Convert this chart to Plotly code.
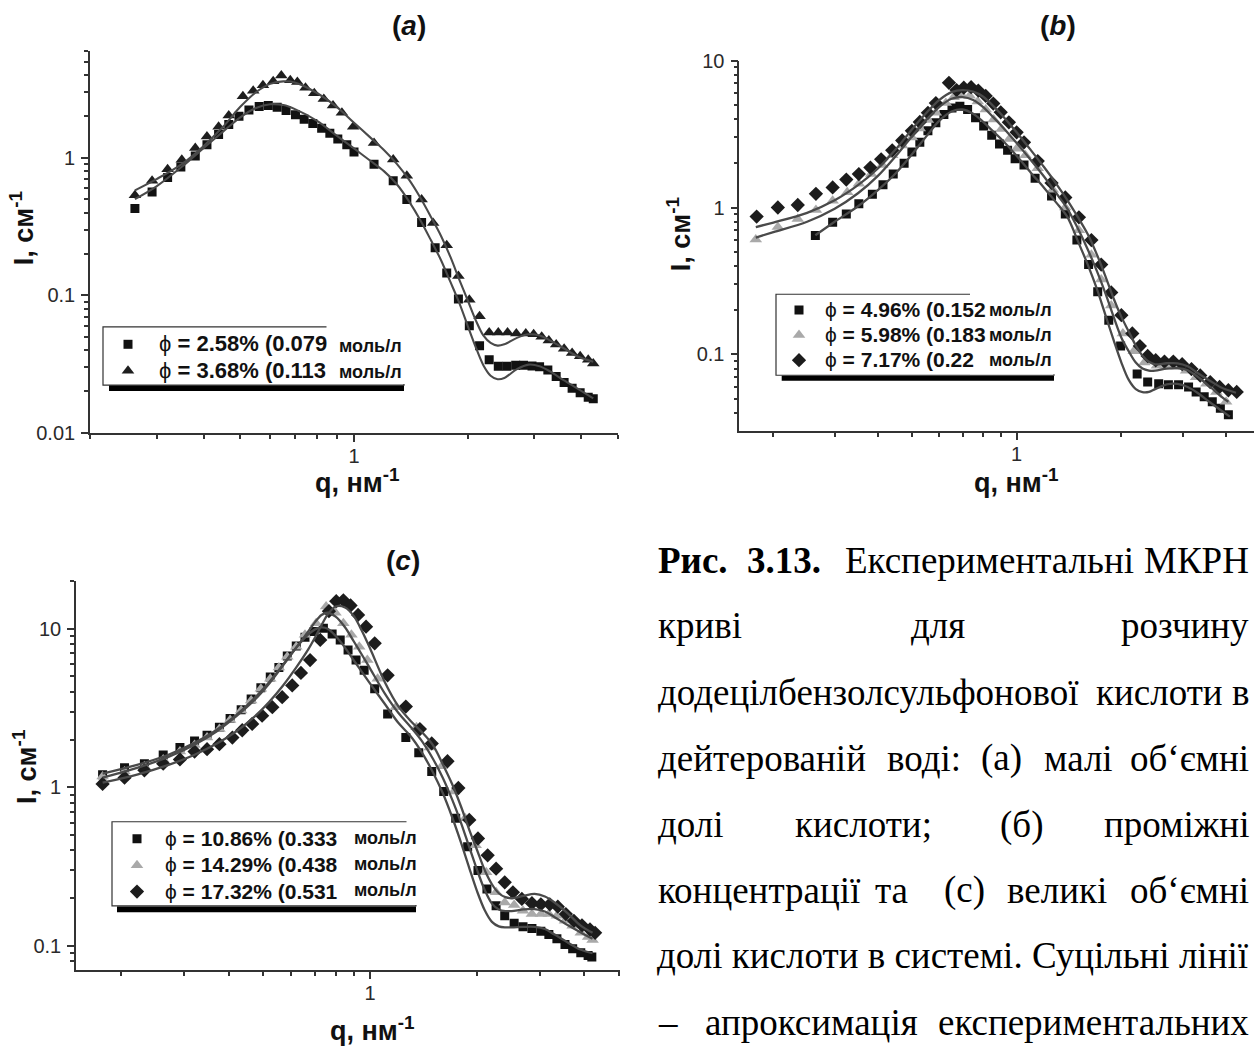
import math
import plotly.graph_objects as go

# ---------------- data: panel (a) ----------------
a_q_sq = [0.263, 0.292, 0.321, 0.348, 0.380, 0.408, 0.438, 0.466, 0.496, 0.527, 0.561, 0.593,
          0.626, 0.661, 0.700, 0.738, 0.778, 0.821, 0.863, 0.906, 0.957, 1.00, 1.13, 1.27,
          1.38, 1.51, 1.64, 1.76, 1.89, 2.02, 2.15, 2.28, 2.41, 2.54, 2.68, 2.81, 2.96, 3.10,
          3.26, 3.43, 3.60, 3.78, 3.97, 4.17, 4.30]
a_I_sq = [0.428, 0.563, 0.72, 0.858, 1.03, 1.245, 1.48, 1.75, 2.01, 2.23, 2.36, 2.40,
          2.33, 2.21, 2.06, 1.91, 1.78, 1.64, 1.51, 1.37, 1.245, 1.10, 0.896, 0.682,
          0.497, 0.339, 0.222, 0.145, 0.094, 0.060, 0.043, 0.034, 0.0305, 0.0305, 0.031, 0.031,
          0.0306, 0.0302, 0.0286, 0.0256, 0.0232, 0.0211, 0.0195, 0.0181, 0.0177]
a_q_tr = [0.263, 0.292, 0.321, 0.350, 0.380, 0.408, 0.438, 0.466, 0.508, 0.541, 0.574, 0.611,
          0.642, 0.678, 0.708, 0.744, 0.785, 0.832, 0.880, 0.929, 0.995, 1.13, 1.27, 1.38,
          1.51, 1.62, 1.76, 1.89, 2.02, 2.15, 2.28, 2.41, 2.55, 2.69, 2.85, 2.99, 3.14, 3.28,
          3.43, 3.60, 3.78, 3.97, 4.17, 4.30]
a_I_tr = [0.533, 0.682, 0.826, 0.97, 1.18, 1.43, 1.68, 2.03, 2.80, 3.07, 3.37, 3.61,
          3.97, 3.66, 3.56, 3.24, 2.95, 2.68, 2.40, 2.13, 1.68, 1.28, 0.973, 0.740,
          0.497, 0.335, 0.231, 0.138, 0.0926, 0.0705, 0.0536, 0.0536, 0.0536, 0.0527, 0.0527,
          0.0521, 0.0499, 0.0468, 0.0438, 0.0408, 0.038, 0.036, 0.034, 0.0319]
a_fit_q = [0.263, 0.30, 0.35, 0.40, 0.45, 0.50, 0.55, 0.60, 0.65, 0.70, 0.80, 0.90, 1.0, 1.1,
           1.2, 1.3, 1.4, 1.5, 1.6, 1.7, 1.8, 1.9, 2.0, 2.1, 2.2, 2.3, 2.4, 2.5, 2.7, 2.9,
           3.1, 3.3, 3.6, 3.9, 4.3]
a_fit_sq = [0.50, 0.62, 0.86, 1.18, 1.55, 1.97, 2.30, 2.45, 2.42, 2.25, 1.85, 1.45, 1.17, 0.96,
            0.80, 0.64, 0.48, 0.35, 0.25, 0.18, 0.125, 0.088, 0.060, 0.042, 0.031, 0.026,
            0.0245, 0.025, 0.029, 0.0313, 0.0305, 0.028, 0.024, 0.021, 0.0178]
a_fit_tr = [0.58, 0.70, 0.90, 1.22, 1.68, 2.35, 3.00, 3.45, 3.60, 3.52, 2.95, 2.35, 1.80, 1.42,
            1.14, 0.90, 0.69, 0.51, 0.37, 0.27, 0.19, 0.13, 0.092, 0.066, 0.051, 0.045,
            0.043, 0.044, 0.049, 0.052, 0.051, 0.047, 0.041, 0.036, 0.0328]
a_phi = ["2.58%", "3.68%"]
a_conc = ["0.079", "0.113"]

# ---------------- data: panel (b) ----------------
b_q_sq = [0.264, 0.296, 0.324, 0.352, 0.385, 0.413, 0.442, 0.475, 0.500, 0.527, 0.556, 0.586,
          0.618, 0.652, 0.687, 0.723, 0.762, 0.804, 0.848, 0.893, 0.942, 0.99, 1.05, 1.13,
          1.26, 1.38, 1.49, 1.61, 1.71, 1.84, 1.99, 2.22, 2.38, 2.56, 2.73, 2.92, 3.12, 3.28,
          3.46, 3.65, 3.85, 4.06]
b_I_sq = [0.644, 0.794, 0.903, 1.06, 1.23, 1.43, 1.69, 2.0, 2.39, 2.78, 3.33, 3.78,
          4.30, 4.76, 4.89, 4.64, 4.08, 3.59, 3.11, 2.71, 2.45, 2.15, 1.95, 1.58,
          1.20, 0.903, 0.600, 0.409, 0.267, 0.171, 0.114, 0.0736, 0.0648, 0.063, 0.0621, 0.0621,
          0.060, 0.0555, 0.0514, 0.0476, 0.043, 0.0388]
b_q_tr = [0.178, 0.206, 0.235, 0.265, 0.296, 0.326, 0.352, 0.382, 0.411, 0.439, 0.469, 0.500,
          0.527, 0.556, 0.586, 0.626, 0.659, 0.695, 0.733, 0.773, 0.815, 0.859, 0.905, 0.953,
          1.0, 1.06, 1.15, 1.27, 1.38, 1.51, 1.64, 1.75, 1.87, 2.02, 2.17, 2.33, 2.53, 2.70,
          2.88, 3.07, 3.28, 3.51, 3.75, 4.00]
b_I_tr = [0.606, 0.736, 0.836, 0.96, 1.11, 1.27, 1.45, 1.69, 1.95, 2.27, 2.64, 3.0,
          3.45, 3.94, 4.41, 5.14, 5.64, 5.84, 5.76, 5.28, 4.64, 3.98, 3.42, 2.93,
          2.51, 2.27, 1.85, 1.32, 1.0, 0.699, 0.476, 0.324, 0.215, 0.139, 0.105, 0.088, 0.0836,
          0.0836, 0.0823, 0.0775, 0.0699, 0.063, 0.0555, 0.0476]
b_q_di = [0.179, 0.206, 0.235, 0.265, 0.296, 0.324, 0.352, 0.380, 0.408, 0.439, 0.469, 0.500,
          0.527, 0.556, 0.586, 0.639, 0.672, 0.705, 0.740, 0.776, 0.815, 0.857, 0.900, 0.950,
          1.0, 1.05, 1.15, 1.26, 1.38, 1.51, 1.64, 1.75, 1.87, 2.00, 2.15, 2.26, 2.38, 2.51,
          2.66, 2.82, 2.99, 3.18, 3.37, 3.60, 3.83, 4.06, 4.29]
b_I_di = [0.867, 1.0, 1.04, 1.24, 1.37, 1.55, 1.69, 1.87, 2.13, 2.45, 2.86, 3.33,
          3.82, 4.41, 5.14, 7.06, 6.30, 6.55, 6.60, 6.25, 5.75, 5.10, 4.45, 3.80,
          3.25, 2.78, 2.07, 1.47, 1.17, 0.858, 0.60, 0.409, 0.264, 0.185, 0.139, 0.114, 0.0975,
          0.0912, 0.0893, 0.0893, 0.0858, 0.0794, 0.0718, 0.0648, 0.060, 0.057, 0.0555]
b_fit_q1 = [0.264, 0.30, 0.35, 0.40, 0.45, 0.50, 0.55, 0.60, 0.65, 0.70, 0.75, 0.80, 0.85,
            0.90, 1.0, 1.1, 1.2, 1.3, 1.4, 1.5, 1.6, 1.7, 1.8, 1.9, 2.0, 2.1, 2.2, 2.3, 2.4,
            2.5, 2.7, 2.9, 3.1, 3.3, 3.6, 3.9, 4.1]
b_fit_sq = [0.647, 0.80, 1.02, 1.32, 1.72, 2.30, 3.05, 3.90, 4.50, 4.65, 4.35, 3.85, 3.35,
            2.95, 2.25, 1.72, 1.36, 1.08, 0.86, 0.59, 0.41, 0.28, 0.185, 0.125, 0.088, 0.067,
            0.058, 0.0553, 0.0555, 0.058, 0.0625, 0.063, 0.060, 0.055, 0.047, 0.041, 0.0377]
b_fit_q2 = [0.178, 0.20, 0.25, 0.30, 0.35, 0.40, 0.45, 0.50, 0.55, 0.60, 0.65, 0.70, 0.75,
            0.80, 0.85, 0.90, 1.0, 1.1, 1.2, 1.3, 1.4, 1.5, 1.6, 1.7, 1.8, 1.9, 2.0, 2.1, 2.2,
            2.3, 2.4, 2.5, 2.7, 2.9, 3.1, 3.3, 3.6, 3.9, 4.06]
b_fit_tr = [0.624, 0.68, 0.80, 0.98, 1.25, 1.65, 2.25, 3.05, 3.95, 4.85, 5.50, 5.65, 5.40,
            4.85, 4.20, 3.65, 2.75, 2.10, 1.62, 1.25, 0.98, 0.72, 0.52, 0.37, 0.26, 0.18,
            0.13, 0.105, 0.088, 0.080, 0.0775, 0.0775, 0.080, 0.0805, 0.078, 0.071, 0.060,
            0.051, 0.0476]
b_fit_q3 = [0.178, 0.20, 0.25, 0.30, 0.35, 0.40, 0.45, 0.50, 0.55, 0.60, 0.65, 0.70, 0.75,
            0.80, 0.85, 0.90, 1.0, 1.1, 1.2, 1.3, 1.4, 1.5, 1.6, 1.7, 1.8, 1.9, 2.0, 2.1, 2.2,
            2.3, 2.4, 2.5, 2.7, 2.9, 3.1, 3.3, 3.6, 3.9, 4.27]
b_fit_di = [0.736, 0.79, 0.92, 1.12, 1.42, 1.85, 2.50, 3.40, 4.40, 5.40, 6.10, 6.30, 6.15,
            5.70, 5.00, 4.35, 3.25, 2.45, 1.88, 1.45, 1.12, 0.86, 0.66, 0.48, 0.34, 0.24,
            0.18, 0.143, 0.115, 0.098, 0.089, 0.0855, 0.087, 0.087, 0.083, 0.075, 0.066,
            0.059, 0.0548]
b_phi = ["4.96%", "5.98%", "7.17%"]
b_conc = ["0.152", "0.183", "0.22"]

# ---------------- data: panel (c) ----------------
c_q_sq = [0.177, 0.204, 0.232, 0.262, 0.292, 0.321, 0.348, 0.377, 0.404, 0.434, 0.463, 0.493,
          0.524, 0.554, 0.585, 0.620, 0.656, 0.696, 0.739, 0.782, 0.824, 0.867, 0.913, 0.962,
          1.03, 1.12, 1.26, 1.37, 1.49, 1.61, 1.74, 1.88, 2.01, 2.13, 2.26, 2.39, 2.54, 2.69,
          2.85, 3.02, 3.18, 3.35, 3.53, 3.71, 3.91, 4.10, 4.20]
c_I_sq = [1.20, 1.33, 1.41, 1.60, 1.78, 1.96, 2.13, 2.39, 2.72, 3.08, 3.61, 4.25,
          4.96, 5.69, 6.72, 7.78, 8.83, 9.60, 10.07, 9.27, 8.49, 7.33, 6.34, 5.47,
          4.18, 2.90, 2.06, 1.65, 1.26, 0.943, 0.638, 0.422, 0.299, 0.229, 0.179, 0.155, 0.139,
          0.132, 0.129, 0.124, 0.118, 0.111, 0.102, 0.096, 0.0906, 0.0871, 0.0853]
c_q_tr = [0.177, 0.204, 0.232, 0.262, 0.292, 0.321, 0.348, 0.377, 0.404, 0.434, 0.463, 0.493,
          0.524, 0.554, 0.585, 0.620, 0.656, 0.705, 0.752, 0.799, 0.841, 0.886, 0.932, 0.982,
          1.05, 1.18, 1.35, 1.47, 1.59, 1.72, 1.85, 1.98, 2.12, 2.26, 2.39, 2.54, 2.69, 2.85,
          3.02, 3.18, 3.35, 3.53, 3.71, 3.91, 4.10, 4.22]
c_I_tr = [1.17, 1.26, 1.36, 1.50, 1.68, 1.85, 2.06, 2.33, 2.66, 3.05, 3.52, 4.18,
          4.84, 5.69, 6.65, 7.70, 9.14, 10.8, 13.8, 12.6, 10.8, 9.14, 7.70, 6.34,
          4.84, 3.20, 2.39, 1.78, 1.36, 0.943, 0.638, 0.432, 0.292, 0.218, 0.188, 0.181, 0.167,
          0.159, 0.159, 0.159, 0.155, 0.144, 0.134, 0.121, 0.114, 0.109]
c_q_di = [0.177, 0.204, 0.232, 0.262, 0.292, 0.321, 0.348, 0.377, 0.410, 0.437, 0.466, 0.497,
          0.531, 0.566, 0.604, 0.639, 0.678, 0.724, 0.766, 0.803, 0.841, 0.881, 0.925, 0.974,
          1.03, 1.12, 1.26, 1.38, 1.49, 1.65, 1.77, 1.90, 2.01, 2.14, 2.26, 2.39, 2.52, 2.67,
          2.85, 3.02, 3.20, 3.37, 3.55, 3.74, 3.94, 4.15, 4.29]
c_I_di = [1.05, 1.15, 1.28, 1.41, 1.50, 1.68, 1.74, 1.87, 2.06, 2.29, 2.51, 2.83,
          3.20, 3.70, 4.39, 5.26, 6.34, 8.49, 12.9, 14.9, 15.1, 14.0, 12.2, 10.3,
          8.09, 5.08, 3.23, 2.33, 1.89, 1.46, 0.99, 0.623, 0.476, 0.373, 0.307, 0.252, 0.218,
          0.198, 0.186, 0.183, 0.183, 0.177, 0.159, 0.144, 0.135, 0.127, 0.121]
c_fit_q = [0.177, 0.22, 0.27, 0.32, 0.37, 0.42, 0.47, 0.52, 0.57, 0.62, 0.67, 0.70, 0.73, 0.76,
           0.80, 0.85, 0.90, 0.95, 1.0, 1.1, 1.2, 1.3, 1.4, 1.5, 1.6, 1.7, 1.8, 1.9, 2.0, 2.1,
           2.2, 2.3, 2.4, 2.5, 2.7, 2.9, 3.1, 3.3, 3.6, 3.9, 4.22]
c_fit_sq = [1.22, 1.38, 1.60, 1.90, 2.30, 2.85, 3.60, 4.60, 5.95, 7.60, 9.20, 9.90, 10.2, 10.0,
            9.0, 7.6, 6.3, 5.3, 4.5, 3.35, 2.55, 2.10, 1.65, 1.25, 0.92, 0.65, 0.45, 0.31,
            0.22, 0.168, 0.142, 0.133, 0.131, 0.131, 0.132, 0.132, 0.128, 0.118, 0.105, 0.095,
            0.090]
c_fit_tr = [1.15, 1.32, 1.55, 1.85, 2.25, 2.80, 3.50, 4.50, 5.90, 7.60, 9.60, 11.0, 12.2, 12.6,
            11.9, 10.2, 8.3, 6.8, 5.6, 3.9, 2.95, 2.40, 1.95, 1.52, 1.15, 0.84, 0.60, 0.42,
            0.30, 0.225, 0.185, 0.170, 0.166, 0.166, 0.170, 0.171, 0.165, 0.152, 0.135, 0.122,
            0.111]
c_fit_di = [1.07, 1.20, 1.38, 1.60, 1.88, 2.25, 2.75, 3.45, 4.40, 5.70, 7.40, 8.80, 10.5, 12.3,
            13.8, 13.6, 12.0, 9.6, 7.5, 4.6, 3.25, 2.62, 2.22, 1.85, 1.40, 1.05, 0.76, 0.54,
            0.40, 0.30, 0.245, 0.215, 0.203, 0.200, 0.207, 0.213, 0.205, 0.188, 0.160, 0.135,
            0.121]
c_phi = ["10.86%", "14.29%", "17.32%"]
c_conc = ["0.333", "0.438", "0.531"]

unit_text = "моль/л"
x_title = "<b>q, нм<sup>-1</sup></b>"
y_title = "<b>I, см<sup>-1</sup></b>"

# ---------------- helpers ----------------
W, H = 1254, 1055
SANS = "Liberation Sans, Arial, sans-serif"
SERIF = "Liberation Serif, Times New Roman, serif"
FIT_COLOR = "#4a4a4a"


def px(x):
    return x / W


def py(y):
    return 1 - y / H


def log_ticks(lo, hi):
    vals = []
    for e in range(-3, 3):
        for k in range(2, 10):
            v = round(k * 10 ** e, 6)
            if lo * 0.999 <= v <= hi * 1.001:
                vals.append(v)
    return vals


fig = go.Figure()


def label(phi, conc, size):
    return f'<span style="font-size:{size}px">ϕ<b> = {phi} ({conc}</b></span>'


def add_points(q, I, name, symbol, color, size, xa, ya, legend):
    fig.add_trace(go.Scatter(
        x=q, y=I, mode="markers", name=name, legend=legend, xaxis=xa, yaxis=ya,
        marker=dict(symbol=symbol, color=color, size=size, line=dict(width=0)),
    ))


def add_fit(q, I, xa, ya, width=2.3):
    fig.add_trace(go.Scatter(
        x=q, y=I, mode="lines", showlegend=False, xaxis=xa, yaxis=ya, hoverinfo="skip",
        line=dict(color=FIT_COLOR, width=width, shape="spline", smoothing=0.9),
    ))


# panel (a)
add_points(a_q_sq, a_I_sq, label(a_phi[0], a_conc[0], 22), "square", "#111111", 9, "x", "y", "legend")
add_points(a_q_tr, a_I_tr, label(a_phi[1], a_conc[1], 22), "triangle-up", "#1e1e1e", 11, "x", "y", "legend")
add_fit(a_fit_q, a_fit_sq, "x", "y", 2.1)
add_fit(a_fit_q, a_fit_tr, "x", "y", 2.1)

# panel (b)
add_points(b_q_sq, b_I_sq, label(b_phi[0], b_conc[0], 21), "square", "#111111", 9, "x2", "y2", "legend2")
add_points(b_q_tr, b_I_tr, label(b_phi[1], b_conc[1], 21), "triangle-up", "#a9a9a9", 11, "x2", "y2", "legend2")
add_points(b_q_di, b_I_di, label(b_phi[2], b_conc[2], 21), "diamond", "#1c1c1c", 11, "x2", "y2", "legend2")
add_fit(b_fit_q1, b_fit_sq, "x2", "y2")
add_fit(b_fit_q2, b_fit_tr, "x2", "y2")
add_fit(b_fit_q3, b_fit_di, "x2", "y2")

# panel (c)
add_points(c_q_sq, c_I_sq, label(c_phi[0], c_conc[0], 21), "square", "#111111", 9, "x3", "y3", "legend3")
add_points(c_q_tr, c_I_tr, label(c_phi[1], c_conc[1], 21), "triangle-up", "#a9a9a9", 11, "x3", "y3", "legend3")
add_points(c_q_di, c_I_di, label(c_phi[2], c_conc[2], 21), "diamond", "#1c1c1c", 11, "x3", "y3", "legend3")
add_fit(c_fit_q, c_fit_sq, "x3", "y3")
add_fit(c_fit_q, c_fit_tr, "x3", "y3")
add_fit(c_fit_q, c_fit_di, "x3", "y3")


def axis(domain, lo, hi, major, major_text, anchor, standoff):
    return dict(
        type="log", domain=domain, range=[math.log10(lo), math.log10(hi)], anchor=anchor,
        showgrid=False, zeroline=False, showline=True, linecolor="#333", linewidth=1.6,
        ticks="outside", ticklen=7, tickwidth=1.6, tickcolor="#333",
        tickvals=major, ticktext=major_text, ticklabelstandoff=standoff,
        tickfont=dict(family=SANS, size=20, color="#2a2a2a"),
        minor=dict(tickvals=log_ticks(lo, hi), ticks="outside", ticklen=4, tickwidth=1.5,
                   tickcolor="#333", showgrid=False),
    )


layout = dict(
    width=W, height=H, margin=dict(l=0, r=0, t=0, b=0),
    paper_bgcolor="white", plot_bgcolor="white", showlegend=True,
    xaxis=axis([px(90), px(618)], 0.2, 5.0, [1], ["1"], "y", -3),
    yaxis=axis([py(430.7), py(40.7)], 0.01, 6.0, [0.01, 0.1, 1], ["0.01", "0.1", "1"], "x", 2),
    xaxis2=axis([px(739.3), 1.0], 0.1596, 4.81, [1], ["1"], "y2", -3),
    yaxis2=axis([py(428.7), py(50.7)], 0.0302, 10.0, [0.1, 1, 10], ["0.1", "1", "10"], "x2", 2),
    xaxis3=axis([px(76), px(620)], 0.149, 5.04, [1], ["1"], "y3", -3),
    yaxis3=axis([py(979.7), py(581.7)], 0.0703, 20.1, [0.1, 1, 10], ["0.1", "1", "10"], "x3", 2),
)


def legend_box(x, y, itemwidth, size):
    return dict(x=px(x), y=py(y), xanchor="left", yanchor="top", bgcolor="rgba(0,0,0,0)",
                borderwidth=0, itemwidth=itemwidth, tracegroupgap=0,
                font=dict(family=SANS, size=size, color="#111"))


layout["legend"] = legend_box(97, 321.8, 52, 18)
layout["legend2"] = legend_box(773, 287.4, 42, 17)
layout["legend3"] = legend_box(109, 826.8, 46, 18)

# legend frames: white box, white patch behind the unit column, dark bar beneath
shapes = []
for (bx0, bx1, by0, by1, cut, barx0, barx1, bary1) in [
    (103, 404, 322.7, 382, 326.5, 109, 404, 388),
    (776, 1054, 289.3, 372, 970, 781.7, 1054, 377.7),
    (112, 416, 828, 914, 406.5, 117, 416, 920.5),
]:
    shapes.append(dict(type="rect", xref="paper", yref="paper", x0=px(bx0), x1=px(bx1),
                       y0=py(by1), y1=py(by0), fillcolor="white",
                       line=dict(color="#333", width=1.2), layer="above"))
    shapes.append(dict(type="rect", xref="paper", yref="paper", x0=px(cut), x1=px(bx1 + 3),
                       y0=py(by1 - 1), y1=py(by0 - 2), fillcolor="white",
                       line=dict(width=0), layer="above"))
    shapes.append(dict(type="rect", xref="paper", yref="paper", x0=px(barx0), x1=px(barx1),
                       y0=py(bary1), y1=py(by1 + 0.5), fillcolor="black",
                       line=dict(width=0), layer="above"))
layout["shapes"] = shapes

annotations = []


def text(t, x, y, size, family=SANS, angle=0, xanchor="center", yanchor="middle",
         color="#111"):
    annotations.append(dict(text=t, x=px(x), y=py(y), xref="paper", yref="paper",
                            showarrow=False, xanchor=xanchor, yanchor=yanchor,
                            textangle=angle, font=dict(family=family, size=size, color=color)))


# panel titles and axis titles
text("<b>(<i>a</i>)</b>", 409, 15, 28)
text("<b>(<i>b</i>)</b>", 1058, 15, 28)
text("<b>(<i>c</i>)</b>", 403, 561, 28)
text(x_title, 357, 480, 27)
text(x_title, 1016, 480, 27)
text(x_title, 372, 1040, 27)
text(y_title, 22, 222, 27, angle=-90)
text(y_title, 679, 228, 27, angle=-90)
text(y_title, 25, 772, 27, angle=-90)

# unit column of the legends
for ux, rows in [(337, [341.7, 368.3]), (987, [305, 330.5, 356]), (352, [845, 871, 898])]:
    for ry in rows:
        text(f"<b>{unit_text}</b>", ux, ry, 18, xanchor="left")

# caption: justified lines, words placed individually; the last word of a
# line is anchored to the right margin
RIGHT = 1251
caption = [
    (561, [("<b>Рис.</b>", 656), ("<b>3.13.</b>", 745), ("Експериментальні", 843), ("МКРН", None)]),
    (628, [("криві", 656), ("для", 909), ("розчину", None)]),
    (696, [("додецілбензолсульфонової", 656), ("кислоти", 1094), ("в", None)]),
    (763, [("дейтерованій", 656), ("воді:", 885), ("(а)", 979), ("малі", 1042), ("об‘ємні", None)]),
    (831, [("долі", 656), ("кислоти;", 793), ("(б)", 998), ("проміжні", None)]),
    (898, [("концентрації", 656), ("та", 873), ("(с)", 942), ("великі", 1005), ("об‘ємні", None)]),
    (965, [("долі кислоти в системі. Суцільні лінії", None)]),
    (1033, [("–", 656), ("апроксимація", 703), ("експериментальних", None)]),
]
for ly, words in caption:
    for w, wx in words:
        if wx is None:
            text(w, RIGHT, ly, 37, family=SERIF, xanchor="right", color="#000")
        else:
            text(w, wx, ly, 37, family=SERIF, xanchor="left", color="#000")

layout["annotations"] = annotations
fig.update_layout(**layout)

fig.write_html("out.html")
